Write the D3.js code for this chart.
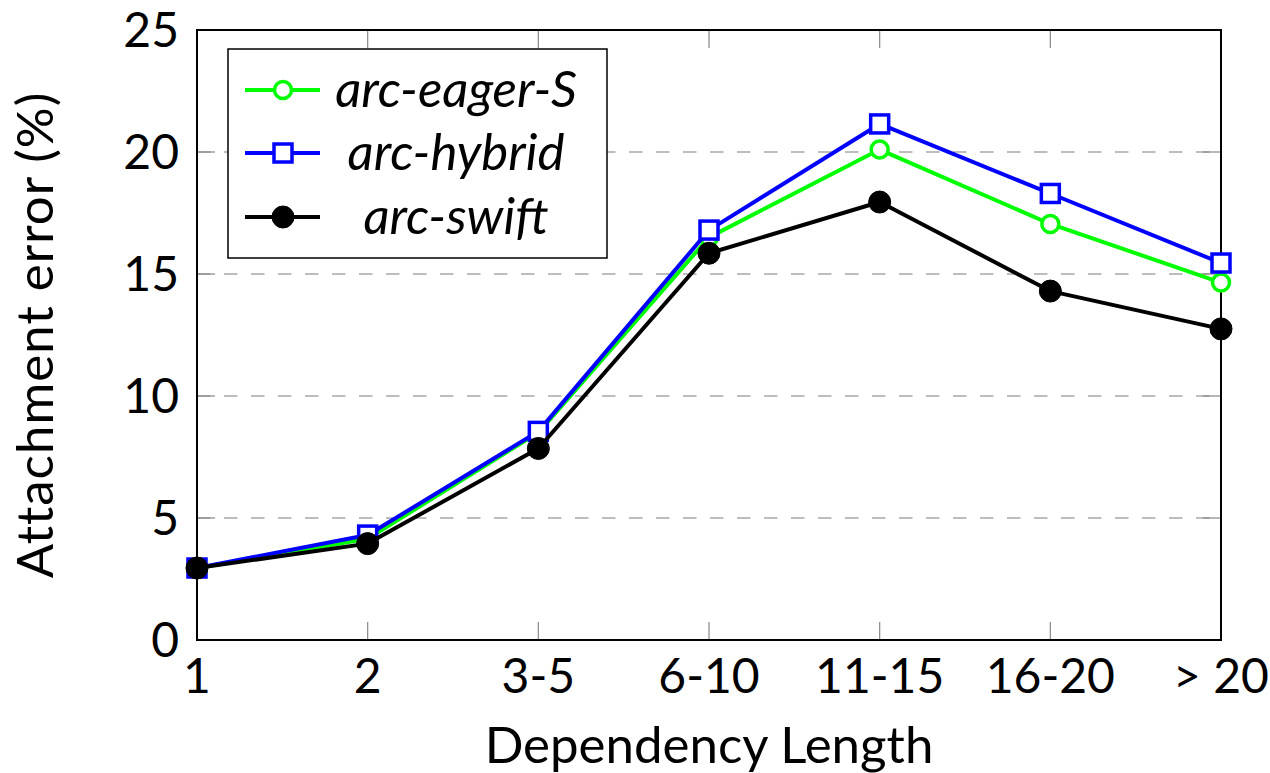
<!DOCTYPE html>
<html>
<head>
<meta charset="utf-8">
<script src="https://cdn.jsdelivr.net/npm/d3@7"></script>
<style>
  body { margin: 0; background: #fff; }
  text { font-family: "Lato", "DejaVu Sans", sans-serif; }
</style>
</head>
<body>
<svg id="chart" width="1270" height="773"></svg>
<script>
// data
var categories = ["1", "2", "3-5", "6-10", "11-15", "16-20", ">20"];
var eagerS = [2.95, 4.15, 8.5, 16.5, 20.1, 17.05, 14.65];
var hybrid = [2.95, 4.3, 8.55, 16.8, 21.15, 18.3, 15.45];
var swift = [2.95, 3.95, 7.85, 15.85, 17.95, 14.3, 12.75];
var yTicks = [0, 5, 10, 15, 20, 25];
var gridTicks = [5, 10, 15, 20];
var seriesNames = ["arc-eager-S", "arc-hybrid", "arc-swift"];

var svg = d3.select("#chart");
var plotLeft = 197, plotRight = 1221, plotTop = 30, plotBottom = 640;

var x = d3.scalePoint().domain(categories).range([plotLeft, plotRight]);
var y = d3.scaleLinear().domain([0, 25]).range([plotBottom, plotTop]);

// dashed grid
svg.selectAll(".grid").data(gridTicks).enter().append("line")
    .attr("x1", plotLeft).attr("x2", plotRight)
    .attr("y1", function(d) { return y(d); })
    .attr("y2", function(d) { return y(d); })
    .attr("stroke", "#bdbdbd")
    .attr("stroke-width", 2)
    .attr("stroke-dasharray", "13.5,13.5");

// inner ticks (all four sides)
var tickLen = 18;
yTicks.forEach(function(t) {
  svg.append("line").attr("x1", plotLeft).attr("x2", plotLeft + tickLen)
    .attr("y1", y(t)).attr("y2", y(t)).attr("stroke", "#888").attr("stroke-width", 1.2);
  svg.append("line").attr("x1", plotRight - tickLen).attr("x2", plotRight)
    .attr("y1", y(t)).attr("y2", y(t)).attr("stroke", "#888").attr("stroke-width", 1.2);
});
categories.forEach(function(c) {
  svg.append("line").attr("x1", x(c)).attr("x2", x(c))
    .attr("y1", plotBottom).attr("y2", plotBottom - tickLen).attr("stroke", "#888").attr("stroke-width", 1.2);
  svg.append("line").attr("x1", x(c)).attr("x2", x(c))
    .attr("y1", plotTop).attr("y2", plotTop + tickLen).attr("stroke", "#888").attr("stroke-width", 1.2);
});

// frame
svg.append("rect")
    .attr("x", plotLeft).attr("y", plotTop)
    .attr("width", plotRight - plotLeft).attr("height", plotBottom - plotTop)
    .attr("fill", "none").attr("stroke", "#000").attr("stroke-width", 2);

// tick labels
svg.selectAll(".ylab").data(yTicks).enter().append("text")
    .attr("x", 179)
    .attr("y", function(d) { return y(d) + 17; })
    .attr("text-anchor", "end")
    .attr("font-size", 48)
    .text(function(d) { return d; });

svg.selectAll(".xlab").data(categories).enter().append("text")
    .attr("x", function(d) { return x(d); })
    .attr("y", 693)
    .attr("text-anchor", "middle")
    .attr("font-size", 48)
    .text(function(d) { return d.replace(">", "> "); });

// axis titles
svg.append("text")
    .attr("x", 709).attr("y", 763)
    .attr("text-anchor", "middle")
    .attr("font-size", 51)
    .text("Dependency Length");

svg.append("text")
    .attr("transform", "translate(53,335) rotate(-90)")
    .attr("text-anchor", "middle")
    .attr("font-size", 51)
    .attr("letter-spacing", 1)
    .text("Attachment error (%)");

// series
var line = d3.line()
    .x(function(d, i) { return x(categories[i]); })
    .y(function(d) { return y(d); });

function drawSeries(vals, color, marker) {
  svg.append("path").datum(vals)
      .attr("d", line)
      .attr("fill", "none")
      .attr("stroke", color)
      .attr("stroke-width", 4)
      .attr("stroke-linejoin", "round");
  vals.forEach(function(v, i) {
    drawMarker(svg, x(categories[i]), y(v), color, marker);
  });
}

function drawMarker(g, cx, cy, color, marker) {
  if (marker == "circle") {
    g.append("circle").attr("cx", cx).attr("cy", cy).attr("r", 8.5)
      .attr("fill", "#fff").attr("stroke", color).attr("stroke-width", 3.5);
  } else if (marker == "square") {
    g.append("rect").attr("x", cx - 9).attr("y", cy - 9)
      .attr("width", 18).attr("height", 18)
      .attr("fill", "#fff").attr("stroke", color).attr("stroke-width", 3.5);
  } else {
    g.append("circle").attr("cx", cx).attr("cy", cy).attr("r", 11)
      .attr("fill", color).attr("stroke", color).attr("stroke-width", 1);
  }
}

drawSeries(eagerS, "#00ff00", "circle");
drawSeries(hybrid, "#0000ff", "square");
drawSeries(swift, "#000000", "dot");

// legend
var legend = svg.append("g");
legend.append("rect")
    .attr("x", 228).attr("y", 49)
    .attr("width", 379).attr("height", 209)
    .attr("fill", "#fff").attr("stroke", "#000").attr("stroke-width", 1.5);

var legendColors = ["#00ff00", "#0000ff", "#000000"];
var legendMarkers = ["circle", "square", "dot"];
var legendRows = [90, 153, 217];
seriesNames.forEach(function(name, i) {
  var ly = legendRows[i];
  legend.append("line")
      .attr("x1", 245).attr("x2", 320)
      .attr("y1", ly).attr("y2", ly)
      .attr("stroke", legendColors[i]).attr("stroke-width", 4);
  drawMarker(legend, 283, ly, legendColors[i], legendMarkers[i]);
  legend.append("text")
      .attr("x", 456).attr("y", ly + 17)
      .attr("text-anchor", "middle")
      .attr("font-size", 51)
      .attr("font-style", "italic")
      .text(name);
});
</script>
</body>
</html>
